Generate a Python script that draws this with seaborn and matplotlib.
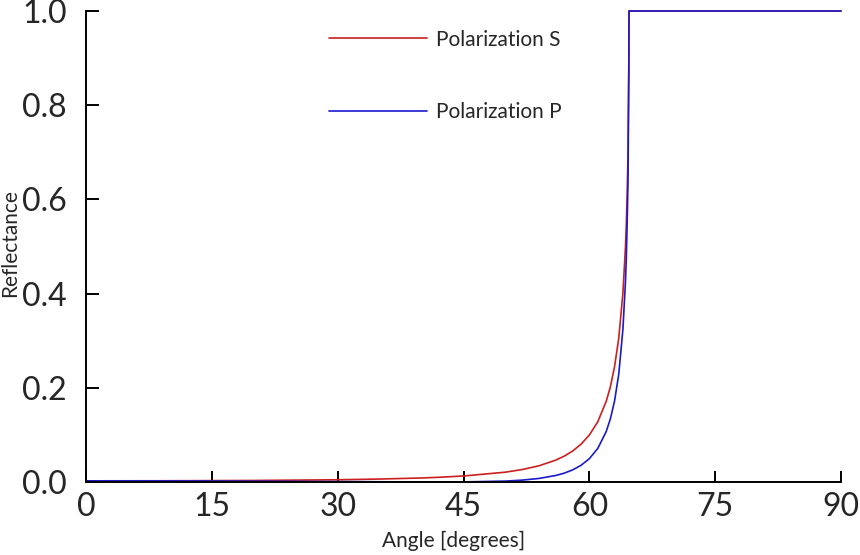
import numpy as np
import pandas as pd
import matplotlib
matplotlib.use('Agg')
import matplotlib.pyplot as plt
from matplotlib.lines import Line2D
import seaborn as sns

# reflectance values (internal reflection, TIR near 64.7 deg)
angle = [0, 10, 20, 30, 35, 40, 42, 45, 50, 52, 54, 56, 57, 58, 59, 60, 61, 62,
         62.5, 63, 63.5, 64, 64.3, 64.4, 64.5, 64.6, 64.7, 64.72, 70, 80, 90]
refl_s = [0.0025, 0.0027, 0.0033, 0.0048, 0.0063, 0.0086, 0.0100, 0.0128, 0.0209,
          0.0265, 0.0345, 0.0465, 0.0549, 0.0658, 0.0802, 0.0999, 0.128, 0.171,
          0.202, 0.245, 0.305, 0.402, 0.499, 0.546, 0.611, 0.692, 0.893, 1.0,
          1.0, 1.0, 1.0]
refl_p = [0.0025, 0.0024, 0.0018, 0.0010, 0.0005, 0.0001, 0.0, 0.0002, 0.0020,
          0.0040, 0.0076, 0.0139, 0.0188, 0.0257, 0.0354, 0.0496, 0.0713, 0.107,
          0.134, 0.172, 0.229, 0.325, 0.426, 0.475, 0.547, 0.637, 0.871, 1.0,
          1.0, 1.0, 1.0]
labels = ['Polarization S', 'Polarization P']
colors = {'Polarization S': '#cc1f1f', 'Polarization P': '#1a1acc'}
xticks = [0, 15, 30, 45, 60, 75, 90]
yticks = [0.0, 0.2, 0.4, 0.6, 0.8, 1.0]

df = pd.DataFrame({'angle': angle, 'Polarization S': refl_s, 'Polarization P': refl_p})
df_long = df.melt(id_vars='angle', var_name='pol', value_name='R')

sns.set_style('ticks')
plt.rcParams['font.family'] = ['Lato', 'DejaVu Sans']
plt.rcParams.update({
    'axes.edgecolor': 'black', 'axes.linewidth': 1.4,
    'xtick.labelsize': 23, 'ytick.labelsize': 23,
})

fig = plt.figure(figsize=(8.6, 5.55), dpi=100)
ax = fig.add_axes([0.1, 0.1315, 0.878, 0.8487])

# S first so P ends up on top, as in the reference
sns.lineplot(data=df_long, x='angle', y='R', hue='pol', palette=colors,
             hue_order=labels, linewidth=1.2, ax=ax, legend=False)
for ln in ax.lines:
    ln.set_clip_on(False)

ax.set_xlim(0, 90)
ax.set_ylim(0, 1)
ax.set_xticks(xticks)
ax.set_yticks(yticks, [f'{v:.1f}' for v in yticks])
ax.spines['top'].set_visible(False)
ax.spines['right'].set_visible(False)
ax.tick_params(axis='y', which='major', left=True, right=False, length=0, pad=14)
ax.tick_params(axis='x', which='major', bottom=True, top=False, direction='in',
               length=8, width=1.4, color='black', pad=7)

# inward y tick marks (the 'in' tick markers did not render here), 13 px long
ytrans = ax.get_yaxis_transform()
for v in yticks:
    ax.plot([0, 13 / 755], [v, v], transform=ytrans, color='black', lw=1.4,
            clip_on=False, solid_capstyle='butt')

ax.set_xlabel('Angle [degrees]', fontsize=15)
ax.set_ylabel('Reflectance', fontsize=15)
ax.xaxis.set_label_coords(0.487, -0.104)
ax.yaxis.set_label_coords(-0.087, 0.507)

handles = [Line2D([], [], color=colors[k], lw=1.2) for k in labels]
ax.legend(handles, labels, frameon=False,
          fontsize=15, handlelength=4.7, handletextpad=0.45, labelspacing=2.5,
          loc='upper left', bbox_to_anchor=(0.2965, 1.0))

fig.savefig('out.png', dpi=100)
